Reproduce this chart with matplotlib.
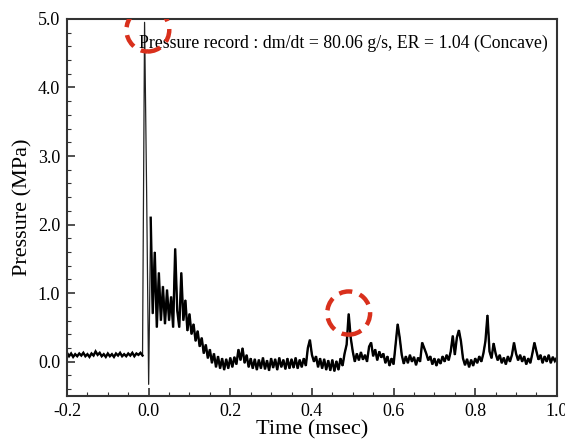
import numpy as np
import matplotlib.pyplot as plt
from matplotlib.patches import Ellipse
from matplotlib.ticker import MultipleLocator, FormatStrFormatter

plt.rcParams['font.family'] = ['Liberation Serif', 'DejaVu Serif']

# pressure record (MPa), sampled every 0.005 msec from -0.2 to 1.0 msec
pressure = [
    0.13, 0.08, 0.12, 0.07, 0.11, 0.08, 0.12, 0.09, 0.13, 0.08,   # -0.200
    0.11, 0.07, 0.12, 0.09, 0.15, 0.10, 0.13, 0.08, 0.11, 0.07,   # -0.150
    0.12, 0.08, 0.11, 0.07, 0.12, 0.09, 0.13, 0.08, 0.11, 0.08,   # -0.100
    0.12, 0.09, 0.13, 0.08, 0.12, 0.10, 0.13, 0.09, 4.95, 2.50,   # -0.050
    -0.33, 2.10, 0.70, 1.60, 0.50, 1.30, 0.60, 1.10, 0.55, 1.05,  # 0.000
    0.60, 0.95, 0.50, 1.65, 0.75, 0.50, 1.30, 0.60, 0.90, 0.45,   # 0.050
    0.70, 0.40, 0.55, 0.30, 0.45, 0.22, 0.35, 0.12, 0.25, 0.05,   # 0.100
    0.18, -0.02, 0.12, -0.08, 0.08, -0.10, 0.05, -0.12, 0.04, -0.10,  # 0.150
    0.06, -0.08, 0.07, -0.04, 0.18, 0.02, 0.20, -0.02, 0.10, -0.08,   # 0.200
    0.05, -0.10, 0.04, -0.12, 0.03, -0.10, 0.06, -0.11, 0.02, -0.13,  # 0.250
    0.05, -0.09, 0.04, -0.12, 0.06, -0.08, 0.03, -0.11, 0.05, -0.10,  # 0.300
    0.04, -0.09, 0.06, -0.10, 0.03, -0.08, 0.05, -0.06, 0.20, 0.32,   # 0.350
    0.10, 0.00, 0.08, -0.08, 0.05, -0.10, 0.04, -0.12, 0.02, -0.13,   # 0.400
    0.03, -0.14, 0.01, -0.12, 0.05, -0.06, 0.12, 0.25, 0.70, 0.35,    # 0.450
    0.15, 0.00, 0.12, 0.02, 0.14, 0.03, 0.10, 0.00, 0.22, 0.28,       # 0.500
    0.08, 0.18, 0.02, 0.15, 0.06, 0.12, -0.02, 0.08, -0.06, 0.05,     # 0.550
    -0.04, 0.25, 0.55, 0.35, 0.10, -0.03, 0.08, -0.02, 0.10, 0.00,    # 0.600
    0.07, -0.05, 0.06, 0.00, 0.28, 0.20, 0.12, 0.02, 0.08, -0.04,     # 0.650
    0.05, -0.06, 0.04, -0.03, 0.08, 0.00, 0.10, 0.02, 0.15, 0.38,     # 0.700
    0.10, 0.35, 0.46, 0.30, 0.05, -0.05, 0.04, -0.08, 0.03, -0.06,    # 0.750
    0.05, -0.02, 0.08, 0.00, 0.12, 0.30, 0.68, 0.15, 0.05, 0.27,      # 0.800
    0.12, 0.02, 0.10, -0.02, 0.06, -0.04, 0.08, 0.00, 0.10, 0.28,     # 0.850
    0.12, 0.02, 0.10, 0.00, 0.08, -0.04, 0.05, -0.02, 0.12, 0.28,     # 0.900
    0.15, 0.03, 0.10, -0.02, 0.08, 0.00, 0.10, -0.02, 0.07, 0.01,     # 0.950
    0.06,                                                              # 1.000
]
time = np.linspace(-0.2, 1.0, len(pressure))

title = "Pressure record : dm/dt = 80.06 g/s, ER = 1.04 (Concave)"
circle_t = [-0.002, 0.49]
circle_p = [4.84, 0.71]

fig = plt.figure(figsize=(5.65, 4.4), dpi=100)
ax = fig.add_axes([0.1186, 0.1, 0.867, 0.857])

p = np.array(pressure)
# the spike itself is a thin line, the noisy trace is bold
bold = np.where((p > 3) | (p < -0.2), np.nan, p)
ax.plot(time, p, color='#222222', lw=0.9)
ax.plot(time, bold, color='black', lw=1.7, solid_joinstyle='miter')

for t, pc in zip(circle_t, circle_p):
    ax.add_patch(Ellipse((t, pc), 0.105, 0.63, fill=False, edgecolor='#d9301c',
                         lw=3.2, linestyle=(0, (3.0, 1.8)), zorder=5))

ax.text(-0.024, 4.65, title, ha='left', va='center', fontsize=12.8)

ax.set_xlim(-0.2, 1.0)
ax.set_ylim(-0.5, 5.0)
ax.xaxis.set_major_locator(MultipleLocator(0.2))
ax.xaxis.set_minor_locator(MultipleLocator(0.05))
ax.yaxis.set_major_locator(MultipleLocator(1.0))
ax.yaxis.set_minor_locator(MultipleLocator(0.2))
ax.xaxis.set_major_formatter(FormatStrFormatter('%.1f'))
ax.yaxis.set_major_formatter(FormatStrFormatter('%.1f'))
ax.tick_params(which='both', direction='in', top=False, right=False, labelsize=13, color='#333333')
ax.tick_params(which='major', length=6, width=1.2, pad=5)
ax.tick_params(which='minor', length=3, width=0.8)
for s in ax.spines.values():
    s.set_linewidth(1.5)
    s.set_color('#333333')

ax.set_xlabel('Time (msec)', fontsize=16, labelpad=0)
ax.set_ylabel('Pressure (MPa)', fontsize=16, labelpad=4)

fig.savefig('out.png', dpi=100)
